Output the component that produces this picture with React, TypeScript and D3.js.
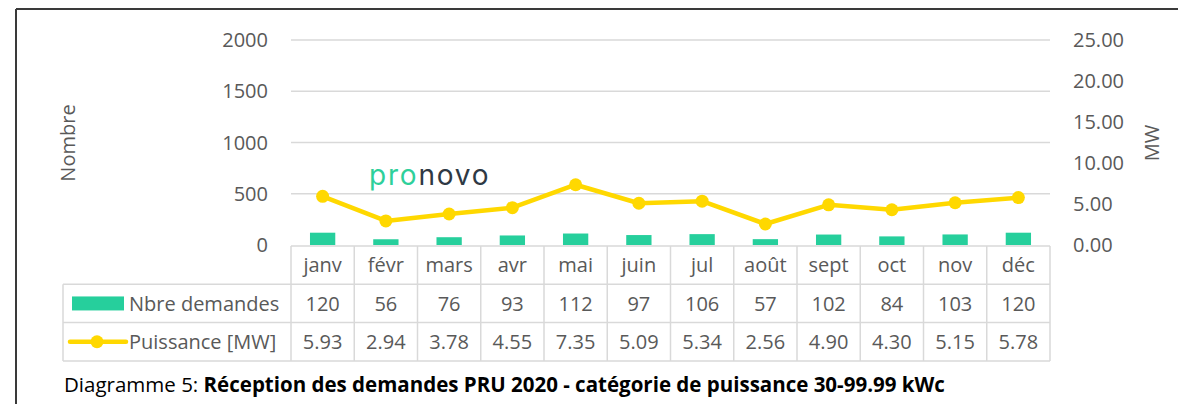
import React from "react";
import * as d3 from "d3";

const months = ["janv", "févr", "mars", "avr", "mai", "juin", "jul", "août", "sept", "oct", "nov", "déc"];
const demandes = [120, 56, 76, 93, 112, 97, 106, 57, 102, 84, 103, 120];
const puissance = [5.93, 2.94, 3.78, 4.55, 7.35, 5.09, 5.34, 2.56, 4.9, 4.3, 5.15, 5.78];
const leftTicks = [0, 500, 1000, 1500, 2000];
const rightTicks = [0, 5, 10, 15, 20, 25];
const seriesNames = ["Nbre demandes", "Puissance [MW]"];

const W = 1178;
const H = 404;
const FONT = "'Open Sans', sans-serif";
const TXT = "#595959";
const GRID = "#d9d9d9";
const GREEN = "#26CF9C";
const YELLOW = "#FFD800";

export default function App() {
  const plotL = 291, plotR = 1050, plotT = 40, plotB = 245;
  const rowH = 38.3;
  const legendL = 63;

  const x = d3.scaleBand<string>().domain(months).range([plotL, plotR]).padding(0);
  const yL = d3.scaleLinear().domain([0, 2000]).range([plotB, plotT]);
  const yR = d3.scaleLinear().domain([0, 25]).range([plotB, plotT]);
  const bw = x.bandwidth();
  const barW = bw * 0.4;
  const cx = (m: string) => (x(m) as number) + bw / 2;

  const line = d3
    .line<number>()
    .x((_, i) => cx(months[i]))
    .y((d) => yR(d));

  const tableTop = plotB + 1;
  const rows = [tableTop, tableTop + rowH, tableTop + 2 * rowH, tableTop + 3 * rowH];

  return (
    <div style={{ position: "absolute", left: 0, top: 0 }}>
      <svg width={W} height={H} style={{ display: "block", fontFamily: FONT }}>
        <rect x={0} y={0} width={W} height={H} fill="#fff" />
        {/* frame */}
        <line x1={16} y1={9} x2={W} y2={9} stroke="#3a3a3a" strokeWidth={2} />
        <line x1={16} y1={9} x2={16} y2={H} stroke="#3a3a3a" strokeWidth={2} />

        {/* gridlines */}
        {leftTicks.slice(1).map((t) => (
          <line key={t} x1={plotL} x2={plotR} y1={yL(t)} y2={yL(t)} stroke={GRID} strokeWidth={1.3} />
        ))}
        {/* left ticks */}
        {leftTicks.map((t) => (
          <text key={t} x={268} y={yL(t)} dy="0.36em" textAnchor="end" fontSize={20} fill={TXT}>
            {t}
          </text>
        ))}
        {/* right ticks */}
        {rightTicks.map((t) => (
          <text key={t} x={1073} y={yR(t)} dy="0.36em" textAnchor="start" fontSize={20} fill={TXT}>
            {t.toFixed(2)}
          </text>
        ))}
        {/* axis titles */}
        <text transform={`translate(75,143) rotate(-90)`} textAnchor="middle" fontSize={20} fill={TXT}>
          Nombre
        </text>
        <text transform={`translate(1159,143) rotate(-90)`} textAnchor="middle" fontSize={20} fill={TXT}>
          MW
        </text>

        {/* logo */}
        <text x={369} y={185} fontSize={28} fontFamily="'Inter', sans-serif" fontWeight={400} letterSpacing={1.8}>
          <tspan fill="#2ED09A">pro</tspan>
          <tspan fill="#2E3944">novo</tspan>
        </text>

        {/* bars */}
        {demandes.map((d, i) => (
          <rect key={i} x={cx(months[i]) - barW / 2} y={yL(d)} width={barW} height={plotB - yL(d)} fill={GREEN} />
        ))}

        {/* line */}
        <path d={line(puissance) || ""} fill="none" stroke={YELLOW} strokeWidth={4.5} strokeLinejoin="round" />
        {puissance.map((p, i) => (
          <circle key={i} cx={cx(months[i])} cy={yR(p)} r={6.5} fill={YELLOW} />
        ))}

        {/* table grid */}
        {rows.map((ry, i) => (
          <line key={i} x1={i === 0 ? plotL : legendL} x2={plotR} y1={ry} y2={ry} stroke={GRID} strokeWidth={1.5} />
        ))}
        {months.map((m) => (
          <line key={m} x1={x(m) as number} x2={x(m) as number} y1={rows[0]} y2={rows[3]} stroke={GRID} strokeWidth={1.5} />
        ))}
        <line x1={plotR} x2={plotR} y1={rows[0]} y2={rows[3]} stroke={GRID} strokeWidth={1.5} />
        <line x1={legendL} x2={legendL} y1={rows[1]} y2={rows[3]} stroke={GRID} strokeWidth={1.5} />

        {/* table text */}
        {months.map((m, i) => (
          <g key={m}>
            <text x={cx(m)} y={(rows[0] + rows[1]) / 2} dy="0.36em" textAnchor="middle" fontSize={20} fill={TXT}>
              {m}
            </text>
            <text x={cx(m)} y={(rows[1] + rows[2]) / 2} dy="0.36em" textAnchor="middle" fontSize={20} fill={TXT}>
              {demandes[i]}
            </text>
            <text x={cx(m)} y={(rows[2] + rows[3]) / 2} dy="0.36em" textAnchor="middle" fontSize={20} fill={TXT}>
              {puissance[i].toFixed(2)}
            </text>
          </g>
        ))}

        {/* legend */}
        <rect x={72} y={(rows[1] + rows[2]) / 2 - 7} width={52} height={14} fill={GREEN} />
        <text x={129} y={(rows[1] + rows[2]) / 2} dy="0.36em" fontSize={20} fill={TXT}>
          {seriesNames[0]}
        </text>
        <line x1={70} x2={126} y1={(rows[2] + rows[3]) / 2} y2={(rows[2] + rows[3]) / 2} stroke={YELLOW} strokeWidth={4.5} strokeLinecap="round" />
        <circle cx={97} cy={(rows[2] + rows[3]) / 2} r={6.5} fill={YELLOW} />
        <text x={129} y={(rows[2] + rows[3]) / 2} dy="0.36em" fontSize={20} fill={TXT}>
          {seriesNames[1]}
        </text>

        {/* caption */}
        <text x={64} y={392} fontSize={20.5} fill="#000">
          <tspan>Diagramme 5: </tspan>
          <tspan fontWeight={700}>Réception des demandes PRU 2020 - catégorie de puissance 30-99.99 kWc</tspan>
        </text>
      </svg>
    </div>
  );
}
